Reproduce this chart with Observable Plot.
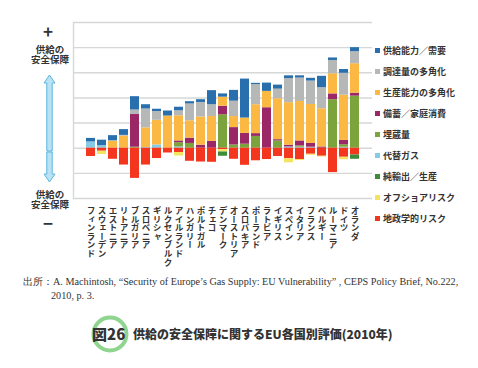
<!DOCTYPE html>
<html><head><meta charset="utf-8">
<script src="https://cdn.jsdelivr.net/npm/d3@7"></script>
<script src="https://cdn.jsdelivr.net/npm/@observablehq/plot@0.6"></script>
<style>
body{margin:0;background:#fff;}
#wrap{position:relative;width:478px;height:368px;overflow:hidden;font-family:"Noto Sans CJK JP","Noto Sans",sans-serif;color:#333;}
#chart{position:absolute;left:0;top:0;width:478px;height:285px;}
#chart svg{max-width:none !important;width:478px;height:285px;}
.abs{position:absolute;white-space:nowrap;}
#legend .item{position:absolute;left:375px;font-size:9px;font-weight:bold;line-height:10px;color:#333;white-space:nowrap;}
#legend .sw{display:inline-block;width:5px;height:5px;margin-right:3px;vertical-align:1px;}
.side{position:absolute;width:80px;left:10px;text-align:center;font-size:9.5px;font-weight:bold;line-height:10px;color:#333;white-space:pre-line;}
.src{font-family:"Liberation Serif","DejaVu Serif",serif;font-size:10.2px;color:#333;line-height:12px;}
</style></head><body><div id="wrap"><div id="chart"></div></div>
<script>
const countries = ["フィンランド","スウェーデン","エストニア","リトアニア","ブルガリア","スロベニア","ギリシャ","ルクセンブルク","アイルランド","ハンガリー","ポルトガル","チェコ","デンマーク","オーストリア","スロバキア","ポーランド","ラトビア","イギリス","スペイン","イタリア","フランス","ベルギー","ルーマニア","ドイツ","オランダ"];

// positive components (stacked upward from zero in this order)
const altGas      = [0.25,0.10,0,0,0,0.03,0.13,0,0.05,0,0,0,0,0,0,0,0,0,0.05,0.04,0.04,0,0,0.04,0];
const reserves    = [0,0,0,0,0.04,0,0,0,0.17,0.19,0,0,1.33,0.13,0.16,0.47,0,0.29,0,0.05,0,0,1.93,0.10,2.07];
const storage     = [0,0,0,0,1.30,0,0,0,0.07,0.21,0.12,0.27,0.34,0.69,0.43,0.11,1.61,0.05,0.07,0.20,0.15,0.05,0.23,0.17,0.12];
const prodDiv     = [0,0,0.27,0.48,0,0.78,0.98,1.28,1.00,0.69,1.12,0.99,0.36,0.44,0.61,1.15,0.65,1.63,1.69,1.57,1.55,1.52,0.80,1.80,1.17];
const sourceDiv   = [0,0,0.03,0.03,0.18,0.75,0.35,0,0.20,0.67,0.58,0.47,0,0.61,0,0.80,0,0.38,0.96,0.93,0.93,0.84,0.53,0.87,0.48];
const supplyCap   = [0.14,0.22,0.20,0.23,0.53,0.17,0.09,0.20,0.14,0.09,0.11,0.56,0.13,0.43,1.55,0.05,0.33,0.16,0.11,0.09,0.11,0.45,0.10,0.15,0.16];
// negative components (stacked downward from zero in this order)
const geoRisk     = [-0.33,-0.12,-0.44,-0.67,-1.20,-0.67,-0.41,-0.19,-0.17,-0.52,-0.55,-0.56,-0.06,-0.44,-0.68,-0.50,-0.45,-0.33,-0.42,-0.45,-0.24,-0.32,-0.97,-0.36,-0.27];
const offshore    = [0,-0.13,0,0,0,0,0,0,-0.14,0,0,0,-0.09,0,0,0,0,0,-0.16,-0.04,-0.04,-0.03,0,-0.10,0];
const netExport   = [0,0,0,0,0,0,0,0,0,0,0,0,-0.17,0,0,0,0,0,0,0,0,0,0,0,-0.17];

const stackOrder = ["代替ガス","埋蔵量","備蓄／家庭消費","生産能力の多角化","調達量の多角化","供給能力／需要","地政学的リスク","オフショアリスク","純輸出／生産"];
const seriesValues = [altGas,reserves,storage,prodDiv,sourceDiv,supplyCap,geoRisk,offshore,netExport];
const legendOrder = ["供給能力／需要","調達量の多角化","生産能力の多角化","備蓄／家庭消費","埋蔵量","代替ガス","純輸出／生産","オフショアリスク","地政学的リスク"];
const legendColors = ["#2a6fad","#b5b8b7","#fbb944","#9b2766","#7ba43c","#85cbe6","#3c8c3c","#f2e45e","#f4361f"];
const yTicks = [-2,-1,0,1,2,3,4,5];

const data = [];
stackOrder.forEach((s, i) => {
  seriesValues[i].forEach((v, j) => { if (v !== 0) data.push({country: countries[j], series: s, value: v}); });
});

const plot = Plot.plot({
  width: 478, height: 285,
  marginTop: 22, marginBottom: 87, marginLeft: 73, marginRight: 106,
  x: {domain: countries, padding: 0.18, label: null},
  y: {domain: [-2, 5], axis: null},
  color: {domain: legendOrder, range: legendColors},
  style: {fontFamily: '"Noto Sans CJK JP", sans-serif', color: "#333"},
  marks: [
    Plot.gridY(yTicks, {stroke: "#d6d8d8", strokeOpacity: 1, strokeWidth: 1.4}),
    Plot.frame({anchor: "left", stroke: "#d6d8d8", strokeWidth: 1.4}),
    Plot.barY(data, Plot.stackY({x: "country", y: "value", fill: "series", order: null})),
    Plot.axisX({tickSize: 0, tickPadding: 8, fontSize: 8.6, fontWeight: "bold", fill: "#333", label: null})
  ]
});
document.getElementById("chart").appendChild(plot);

// vertical Japanese tick labels
d3.select(plot).selectAll('g[aria-label="x-axis tick label"]').attr("text-anchor", "start").attr("dy", null)
  .selectAll("text").each(function() {
    const t = d3.select(this);
    t.attr("y", null).attr("dy", null)
     .style("writing-mode", "vertical-rl").style("text-orientation", "upright");
    t.selectAll("tspan").attr("y", null).attr("dy", null).attr("x", null);
  });

const wrap = d3.select("#wrap");
// legend
const lg = wrap.append("div").attr("id", "legend");
legendOrder.forEach((s, i) => {
  const it = lg.append("div").attr("class", "item").style("top", (46 + i * 21) + "px");
  it.append("span").attr("class", "sw").style("background", legendColors[i]);
  it.append("span").text(s);
});

// side annotation
wrap.append("div").attr("class", "abs").style("left", "43px").style("top", "22px")
  .style("font-size", "17px").style("font-weight", "bold").style("line-height", "17px").text("+");
wrap.append("div").attr("class", "side").style("top", "44px").text("供給の\n安全保障");
wrap.append("div").attr("class", "side").style("top", "189px").text("供給の\n安全保障");
wrap.append("div").attr("class", "abs").style("left", "43px").style("top", "214px")
  .style("font-size", "17px").style("font-weight", "bold").style("line-height", "17px").text("−");
const arr = wrap.append("svg").attr("class", "abs").style("left", "0px").style("top", "0px")
  .attr("width", 100).attr("height", 240);
arr.append("path").attr("d", "M49.5,75 L55,83 L52.2,83 L52.2,151 L46.8,151 L46.8,83 L44,83 Z")
  .attr("fill", "#b9e3f5").attr("stroke", "#5bb5de").attr("stroke-width", 1);
arr.append("path").attr("d", "M49.5,182 L55,174 L52.2,174 L52.2,152 L46.8,152 L46.8,174 L44,174 Z")
  .attr("fill", "#b9e3f5").attr("stroke", "#5bb5de").attr("stroke-width", 1);

// source
wrap.append("div").attr("class", "abs src").style("left", "23px").style("top", "276px")
  .text("出所：A. Machintosh, “Security of Europe’s Gas Supply: EU Vulnerability” , CEPS Policy Brief, No.222,");
wrap.append("div").attr("class", "abs src").style("left", "51px").style("top", "290px").text("2010, p. 3.");

// title
const tt = wrap.append("svg").attr("class", "abs").style("left", "0px").style("top", "310px")
  .attr("width", 478).attr("height", 50);
tt.append("circle").attr("cx", 110).attr("cy", 24).attr("r", 16.5).attr("fill", "none")
  .attr("stroke", "#8fd48f").attr("stroke-width", 4);
tt.append("text").attr("x", 92).attr("y", 29.5).attr("font-size", 15).attr("font-weight", 900)
  .attr("fill", "#333").attr("font-family", '"Noto Sans CJK JP", sans-serif').text("図26");
tt.append("text").attr("x", 133).attr("y", 28.5).attr("font-size", 12).attr("font-weight", 900)
  .attr("fill", "#333").attr("font-family", '"Noto Sans CJK JP", sans-serif').text("供給の安全保障に関するEU各国別評価(2010年)");
</script></body></html>
